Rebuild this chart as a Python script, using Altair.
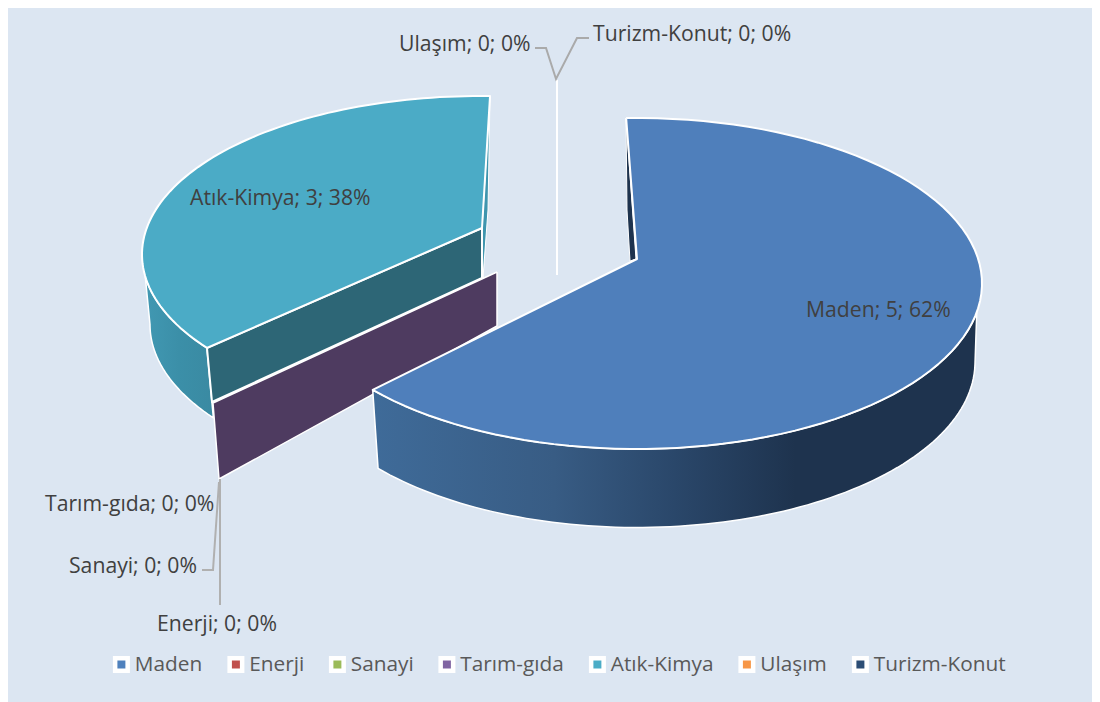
import math
import altair as alt
import pandas as pd

# ---- data
categories = ["Maden", "Enerji", "Sanayi", "Tarım-gıda", "Atık-Kimya", "Ulaşım", "Turizm-Konut"]
values = [5, 0, 0, 0, 3, 0, 0]
percents = [62, 0, 0, 0, 38, 0, 0]
colors = ["#4f81bd", "#c0504d", "#9bbb59", "#8064a2", "#4bacc6", "#f79646", "#2c4d75"]

# ---- layout of the tilted pie (page pixels)
FONT = "Open Sans"
MAIN = dict(cx=637, cy=283.5, rx=345, ry=165.5, dcy=78.5, drx=-7, apex=(637, 259), t0=-1.8, deg_per_value=231.8 / 5)
ATIK = dict(cx=480, cy=254.5, rx=338, ry=158.5, dcy=70, drx=-8, apex=(482, 228), t0=233.9, deg_per_value=127.8 / 3)
label_pos = {
    "Maden": (806, 311), "Enerji": (157, 625), "Sanayi": (69, 567), "Tarım-gıda": (45, 505),
    "Atık-Kimya": (190, 199), "Ulaşım": (399, 45), "Turizm-Konut": (593, 35),
}


def arc(p, a, b, low=False, n=90):
    pts = []
    for k in range(n + 1):
        t = math.radians(a + (b - a) * k / n)
        if low:
            pts.append((p["cx"] + (p["rx"] + p["drx"]) * math.sin(t), p["cy"] + p["dcy"] - p["ry"] * math.cos(t)))
        else:
            pts.append((p["cx"] + p["rx"] * math.sin(t), p["cy"] - p["ry"] * math.cos(t)))
    return pts


X = alt.X("x:Q", axis=None, scale=alt.Scale(domain=[8, 1092], nice=False, zero=False))
Y = alt.Y("y:Q", axis=None, scale=alt.Scale(domain=[702, 8], nice=False, zero=False))


def poly(points, fill, sw=1.5, stroke="white"):
    pts = list(points) + [points[0]]
    df = pd.DataFrame({"x": [q[0] for q in pts], "y": [q[1] for q in pts], "i": range(len(pts))})
    return alt.Chart(df).mark_line(fill=fill, stroke=stroke, strokeWidth=sw, clip=False, strokeJoin="round").encode(x=X, y=Y, order="i:Q")


def leader(points, color="#aaaaaa", sw=2):
    df = pd.DataFrame({"x": [q[0] for q in points], "y": [q[1] for q in points], "i": range(len(points))})
    return alt.Chart(df).mark_line(stroke=color, strokeWidth=sw).encode(x=X, y=Y, order="i:Q")


def grad(stops):
    return alt.Gradient(gradient="linear", x1=0, x2=1, y1=0, y2=0,
                        stops=[alt.GradientStop(offset=o, color=c) for o, c in stops])


main_end = MAIN["t0"] + values[0] * MAIN["deg_per_value"]
atik_end = ATIK["t0"] + values[4] * ATIK["deg_per_value"]

layers = []
# Atık-Kimya: wall, inner sliver, cut face
wall_a = arc(ATIK, 262, ATIK["t0"]) + arc(ATIK, ATIK["t0"], 270, low=True)
layers.append(poly(wall_a, grad([(0, "#4198b2"), (0.5, "#3b8fa8"), (1, "#3a8aa2")])))
layers.append(poly([(490, 96), (488, 210), (483, 278), (482, 228)], "#3f95ae", 1))
layers.append(poly([ATIK["apex"], (207, 348), (212, 402), (482, 278)], "#2d6676", 2))
# zero-valued slices: cut face and edge
layers.append(poly([(497, 272), (497, 326), (219, 479), (213, 403)], "#4e3b60", 1.5))
layers.append(leader([(557, 80), (557, 275)], "white", 2))
# Maden: sliver, wall, top
layers.append(poly([(626, 118), (636, 259), (630, 261), (627, 210)], "#1e334e", 1))
wall_m = arc(MAIN, 100, main_end) + arc(MAIN, main_end, 91, low=True)
layers.append(poly(wall_m, grad([(0, "#3f6b99"), (0.3, "#385c84"), (0.5, "#2a476a"), (0.7, "#1e334e"), (1, "#1e334e")]), 1.5))
layers.append(poly(arc(MAIN, MAIN["t0"], main_end) + [MAIN["apex"]], "#4f7fbb", 2))
# Atık-Kimya top
layers.append(poly(arc(ATIK, ATIK["t0"], atik_end) + [ATIK["apex"]], "#4babc6", 2))

# leader lines
layers.append(leader([(535, 48), (546, 48), (556, 79), (577, 38), (589, 38)]))
layers.append(leader([(220, 479), (220, 605)], "#b0b0b0"))
layers.append(leader([(202, 570), (213, 570), (219, 482)], "#b0b0b0"))

# data labels
labels = pd.DataFrame({
    "x": [label_pos[c][0] for c in categories],
    "y": [label_pos[c][1] for c in categories],
    "text": [f"{c}; {v}; {p}%" for c, v, p in zip(categories, values, percents)],
})
layers.append(alt.Chart(labels).mark_text(align="left", baseline="middle", font=FONT, fontSize=21.2, color="#404040")
              .encode(x=X, y=Y, text="text:N"))

# legend carrier
legend_df = pd.DataFrame({"cat": categories})
layers.append(alt.Chart(legend_df).mark_square(opacity=0, size=1).encode(
    x=alt.value(0), y=alt.value(0),
    fill=alt.Fill("cat:N", sort=categories,
                  scale=alt.Scale(domain=categories, range=colors),
                  legend=alt.Legend(title=None, orient="none", legendX=103, legendY=646, direction="horizontal",
                                    columns=7, columnPadding=17.5, symbolType="square", symbolSize=156,
                                    symbolOpacity=1, symbolStrokeColor="white", symbolStrokeWidth=4.5,
                                    labelFont=FONT, labelFontSize=20.8, labelColor="#595959", labelOffset=3,
                                    labelLimit=300, padding=0))))

chart = (alt.layer(*layers)
         .resolve_scale(x="shared", y="shared")
         .properties(width=1084, height=694, background="#dce6f2", padding=0, autosize="none")
         .configure_view(stroke=None))

chart.save("out.html", embed_options={"renderer": "svg", "actions": False})
